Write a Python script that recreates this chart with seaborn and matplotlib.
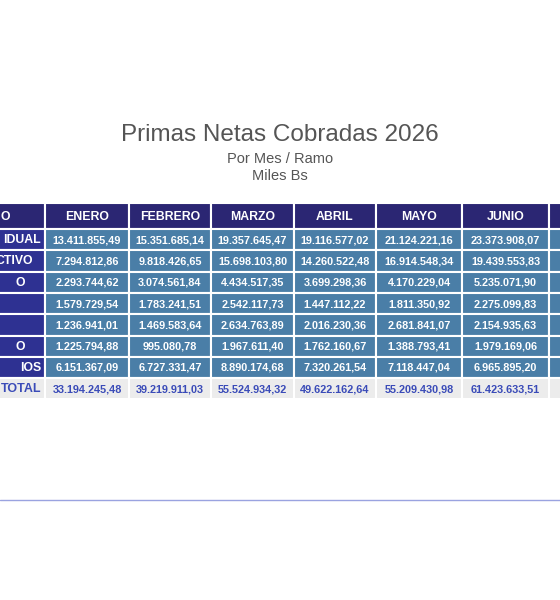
import matplotlib.pyplot as plt
import seaborn as sns
from matplotlib.patches import Rectangle

sns.set_theme(style="white")
plt.rcParams['font.family'] = ['Liberation Sans', 'DejaVu Sans']

# Datos (la columna de ramos aparece recortada en la imagen)
meses = ["ENERO", "FEBRERO", "MARZO", "ABRIL", "MAYO", "JUNIO", ""]
ramos = ["IDUAL", "CTIVO", "O", "", "", "O", "IOS"]
valores = [
    ["13.411.855,49", "15.351.685,14", "19.357.645,47", "19.116.577,02", "21.124.221,16", "23.373.908,07", ""],
    ["7.294.812,86", "9.818.426,65", "15.698.103,80", "14.260.522,48", "16.914.548,34", "19.439.553,83", ""],
    ["2.293.744,62", "3.074.561,84", "4.434.517,35", "3.699.298,36", "4.170.229,04", "5.235.071,90", ""],
    ["1.579.729,54", "1.783.241,51", "2.542.117,73", "1.447.112,22", "1.811.350,92", "2.275.099,83", ""],
    ["1.236.941,01", "1.469.583,64", "2.634.763,89", "2.016.230,36", "2.681.841,07", "2.154.935,63", ""],
    ["1.225.794,88", "995.080,78", "1.967.611,40", "1.762.160,67", "1.388.793,41", "1.979.169,06", ""],
    ["6.151.367,09", "6.727.331,47", "8.890.174,68", "7.320.261,54", "7.118.447,04", "6.965.895,20", ""],
]
totales = ["33.194.245,48", "39.219.911,03", "55.524.934,32", "49.622.162,64", "55.209.430,98", "61.423.633,51", ""]

# Colores / geometría en píxeles
c_head = "#2b2673"
c_ramo = "#2e3192"
c_cell = "#4a7ea7"
c_tot = "#ececec"
c_tot_txt = "#3a4bb8"

fig = plt.figure(figsize=(5.6, 6), dpi=100)
ax = fig.add_axes([0, 0, 1, 1])
ax.set_xlim(0, 560)
ax.set_ylim(600, 0)
ax.axis("off")

x0 = -130
w_ramo = 175
w_mes = [84, 82, 83, 82, 86, 87, 84]
y0 = 203
h_head = 26
h_row = 21.3
h_tot = 21
fin_ramo = [41, 33, 25, 0, 0, 25, 41]  # donde termina el texto recortado

edges = [x0, x0 + w_ramo]
for w in w_mes:
    edges.append(edges[-1] + w)

def cell(x, y, w, h, color, text="", tcolor="white", size=7.8, tx=None, ha="center"):
    ax.add_patch(Rectangle((x, y), w, h, facecolor=color, edgecolor="white", lw=1.5))
    if text:
        if tx is None:
            tx = x + w / 2
        ax.text(tx, y + h / 2 + 0.5, text, color=tcolor, fontsize=size,
                fontweight="bold", ha=ha, va="center")

cell(edges[0], y0, w_ramo, h_head, c_head, "O", size=8.8, tx=10, ha="right")
for j, m in enumerate(meses):
    cell(edges[j + 1], y0, w_mes[j], h_head, c_head, m, size=8.8)

for i, r in enumerate(ramos):
    y = y0 + h_head + i * h_row
    cell(edges[0], y, w_ramo, h_row, c_ramo, r, size=8.8, tx=fin_ramo[i], ha="right")
    for j in range(len(meses)):
        cell(edges[j + 1], y, w_mes[j], h_row, c_cell, valores[i][j])

yt = y0 + h_head + len(ramos) * h_row
cell(edges[0], yt, w_ramo, h_tot, c_tot, "TOTAL", tcolor=c_tot_txt, size=9, tx=41, ha="right")
for j in range(len(meses)):
    cell(edges[j + 1], yt, w_mes[j], h_tot, c_tot, totales[j], tcolor=c_tot_txt)

ax.text(280, 135, "Primas Netas Cobradas 2026", ha="center", va="center",
        fontsize=17.5, color="#555555")
ax.text(280, 159, "Por Mes / Ramo", ha="center", va="center", fontsize=10.5, color="#555555")
ax.text(280, 176, "Miles Bs", ha="center", va="center", fontsize=10.5, color="#555555")

ax.plot([0, 560], [500, 500], color="#9aa3e0", lw=1)

fig.savefig("out.png", dpi=100)
